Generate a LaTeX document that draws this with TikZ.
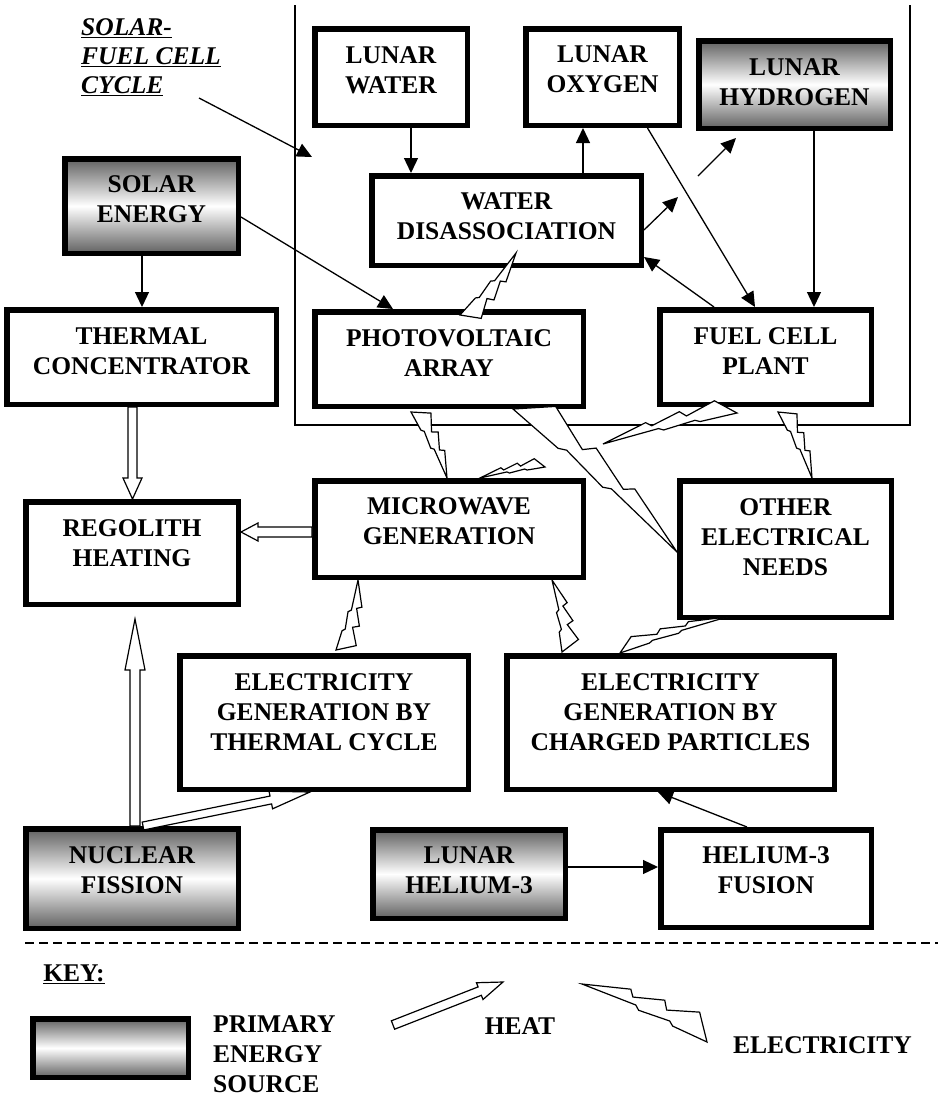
\documentclass[tikz,border=0pt]{standalone}
\usepackage{fontspec}
\setmainfont{Liberation Serif}
\usetikzlibrary{arrows.meta,calc}

% hollow block arrow: tail, tip, half shaft width, half head width, head length
\newcommand\heatarrow[5]{%
  \coordinate (hx-base) at ($(#2)!#5!(#1)$);
  \draw[heat] ($(#1)!#3!90:(#2)$) -- ($(hx-base)!#3!90:(#2)$)
    -- ($(hx-base)!#4!90:(#2)$) -- (#2)
    -- ($(hx-base)!#4!-90:(#2)$) -- ($(hx-base)!#3!-90:(#2)$)
    -- ($(#1)!#3!-90:(#2)$) -- cycle;
}

% zigzag lightning bolt: from, to, width (pt, no unit), side (90 or -90)
\newcommand\boltshape[4]{%
  \draw[elec] (#1)
    -- ($(#1)!0.337!(#2)!{0.66*#3pt}!#4:(#2)$)
    -- ($(#1)!0.375!(#2)!{0.40*#3pt}!#4:(#2)$)
    -- ($(#1)!0.594!(#2)!{0.84*#3pt}!#4:(#2)$)
    -- ($(#1)!0.637!(#2)!{0.50*#3pt}!#4:(#2)$)
    -- ($(#1)!0.860!(#2)!{1.00*#3pt}!#4:(#2)$)
    -- (#2)
    -- ($(#1)!0.725!(#2)$)
    -- ($(#1)!0.690!(#2)!{0.14*#3pt}!#4:(#2)$)
    -- ($(#1)!0.453!(#2)$)
    -- ($(#1)!0.418!(#2)!{0.15*#3pt}!#4:(#2)$)
    -- cycle;
}

\tikzset{
  box/.style={draw=black, line width=5.5pt, fill=white, inner sep=0pt},
  srcbox/.style={box, top color=black!62, bottom color=black!62, middle color=white},
  lbl/.style={font=\fontsize{25.5}{30}\selectfont\bfseries, align=center, inner sep=0pt},
  arr/.style={line width=1.3pt, -{Triangle[length=15pt,width=14pt]}},
  heat/.style={draw=black, fill=white, line width=1.2pt, line join=miter},
  elec/.style={draw=black, fill=white, line width=1.2pt, line join=miter},
  frameline/.style={line width=1.1pt},
  sepline/.style={line width=1.3pt, dash pattern=on 9pt off 5pt},
}

\begin{document}
\begin{tikzpicture}[x=1pt, y=-1pt]
\useasboundingbox (0,0) rectangle (938,1096);

% frame of the solar-fuel cell cycle
\draw[frameline] (295,5) -- (295,425) -- (910,425) -- (910,5);

% blocks
\node[box, minimum width=152.5pt, minimum height=96.5pt] (lw) at (391,77) {};
\node[box, minimum width=153.5pt, minimum height=96.5pt] (lo) at (602.5,77) {};
\node[srcbox, minimum width=191.5pt, minimum height=87.5pt] (lh) at (794.5,84.5) {};
\node[box, minimum width=269.5pt, minimum height=89.5pt] (wd) at (506.5,220.5) {};
\node[srcbox, minimum width=173.5pt, minimum height=94.5pt] (se) at (151.5,206) {};
\node[box, minimum width=269.5pt, minimum height=94.5pt] (tc) at (141.5,357) {};
\node[box, minimum width=268.5pt, minimum height=94.5pt] (pv) at (449,359) {};
\node[box, minimum width=211.5pt, minimum height=94.5pt] (fc) at (765.5,357) {};
\node[box, minimum width=268.5pt, minimum height=96.5pt] (mw) at (449,529) {};
\node[box, minimum width=212.5pt, minimum height=102.5pt] (rh) at (132,553) {};
\node[box, minimum width=211.5pt, minimum height=136.5pt] (oe) at (785.5,549) {};
\node[box, minimum width=288.5pt, minimum height=133.5pt] (et) at (324,722.5) {};
\node[box, minimum width=327.5pt, minimum height=133.5pt] (ec) at (670.5,722.5) {};
\node[srcbox, minimum width=212.5pt, minimum height=99.5pt] (nf) at (132,878.5) {};
\node[srcbox, minimum width=192.5pt, minimum height=88.5pt] (lhe) at (469,874) {};
\node[box, minimum width=210.5pt, minimum height=97.5pt] (hf) at (766,878.5) {};
\node[srcbox, minimum width=155.5pt, minimum height=58.5pt] (keybox) at (110.5,1048) {};

% block texts
\node[lbl] (lw-t) at ([yshift=7pt]lw.center) {LUNAR\\WATER};
\node[lbl] (lo-t) at ([yshift=8pt]lo.center) {LUNAR\\OXYGEN};
\node[lbl] (lh-t) at ([yshift=2pt]lh.center) {LUNAR\\HYDROGEN};
\node[lbl] (wd-t) at ([yshift=4.5pt]wd.center) {WATER\\DISASSOCIATION};
\node[lbl] (se-t) at ([yshift=7pt]se.center) {SOLAR\\ENERGY};
\node[lbl] (tc-t) at ([yshift=6pt]tc.center) {THERMAL\\CONCENTRATOR};
\node[lbl] (pv-t) at ([yshift=6pt]pv.center) {PHOTOVOLTAIC\\ARRAY};
\node[lbl] (fc-t) at ([yshift=6pt]fc.center) {FUEL CELL\\PLANT};
\node[lbl] (mw-t) at ([yshift=8pt]mw.center) {MICROWAVE\\GENERATION};
\node[lbl] (rh-t) at ([yshift=10pt]rh.center) {REGOLITH\\HEATING};
\node[lbl] (oe-t) at ([yshift=12pt]oe.center) {OTHER\\ELECTRICAL\\NEEDS};
\node[lbl] (et-t) at ([yshift=10.5pt]et.center) {ELECTRICITY\\GENERATION BY\\THERMAL CYCLE};
\node[lbl] (ec-t) at ([yshift=10.5pt]ec.center) {ELECTRICITY\\GENERATION BY\\CHARGED PARTICLES};
\node[lbl] (nf-t) at ([yshift=8.5pt]nf.center) {NUCLEAR\\FISSION};
\node[lbl] (lhe-t) at ([yshift=4pt]lhe.center) {LUNAR\\HELIUM-3};
\node[lbl] (hf-t) at ([yshift=8.5pt]hf.center) {HELIUM-3\\FUSION};

% cycle caption and its pointer
\node[lbl, font=\fontsize{25.5}{29}\selectfont\bfseries\itshape, align=left, anchor=west] (sfc)
  at (81,57) {\underline{SOLAR-}\\\underline{FUEL CELL}\\\underline{CYCLE}};
\coordinate (sfc-a) at (199,98);
\coordinate (sfc-b) at (312,157);
\draw[arr] (sfc-a) -- (sfc-b);

% material and energy flows
\draw[arr] ([xshift=20pt]lw.south) -- ([xshift=-95.5pt]wd.north);
\draw[arr] ([xshift=76.5pt]wd.north) -- ([xshift=-19.5pt]lo.south);
\coordinate (wd-out) at (678,197);
\draw[arr] ([yshift=-9.5pt]wd.east) -- (wd-out);
\coordinate (h2-a) at (698,176);
\coordinate (h2-b) at (736,138);
\draw[arr] (h2-a) -- (h2-b);
\draw[arr] ([xshift=45pt]lo.south) -- ([xshift=-10.5pt]fc.north);
\draw[arr] ([xshift=19.5pt]lh.south) -- ([xshift=48.5pt]fc.north);
\draw[arr] ([xshift=-51.5pt]fc.north) -- ([yshift=-36.5pt]wd.east);
\draw[arr] ([yshift=-11pt]se.east) -- ([xshift=-56pt]pv.north);
\draw[arr] ([xshift=-9.5pt]se.south) -- ([xshift=0.5pt]tc.north);
\draw[arr] ([yshift=7pt]lhe.east) -- ([yshift=11.5pt]hf.west);
\draw[arr] ([xshift=-19pt]hf.north) -- ([xshift=-12.5pt]ec.south);

% heat flows
\coordinate (h1s) at ([xshift=-9pt]tc.south);
\coordinate (h1e) at ([xshift=0.5pt]rh.north);
\heatarrow{h1s}{h1e}{4.5pt}{9.5pt}{21pt}
\coordinate (h2s) at ([yshift=-3pt]mw.west);
\coordinate (h2e) at ([yshift=21pt]rh.east);
\heatarrow{h2s}{h2e}{5pt}{9pt}{17pt}
\coordinate (h3s) at ([xshift=3pt]nf.north);
\coordinate (h3e) at ([xshift=3pt,yshift=-12pt]rh.south);
\heatarrow{h3s}{h3e}{5pt}{10pt}{51pt}
\coordinate (h4s) at ([xshift=11pt]nf.north);
\coordinate (h4e) at ([xshift=-14pt]et.south);
\heatarrow{h4s}{h4e}{4pt}{9pt}{40pt}

% electricity flows
\coordinate (b1a) at ([xshift=9.5pt,yshift=15pt]wd.south);
\coordinate (b1b) at ([xshift=11pt,yshift=-6pt]pv.north);
\boltshape{b1a}{b1b}{18}{90}
\coordinate (b2a) at ([xshift=-2pt]mw.north);
\coordinate (b2b) at ([xshift=-38pt,yshift=-3pt]pv.south);
\boltshape{b2a}{b2b}{17}{-90}
\coordinate (b3a) at ([xshift=31pt]mw.north);
\coordinate (b3b) at (545,467);
\boltshape{b3a}{b3b}{10}{90}
\coordinate (b4a) at (603,444);
\coordinate (b4b) at ([xshift=-28.5pt,yshift=-6pt]fc.south);
\boltshape{b4a}{b4b}{17}{90}
\coordinate (b5a) at ([xshift=26.5pt]oe.north);
\coordinate (b5b) at ([xshift=12.5pt,yshift=-5pt]fc.south);
\boltshape{b5a}{b5b}{16}{-90}
\coordinate (b6a) at ([yshift=-3pt]oe.west);
\coordinate (b6b) at ([xshift=64pt]pv.south);
\boltshape{b6a}{b6b}{30}{-90}
\coordinate (b7a) at ([xshift=-91pt]mw.south);
\coordinate (b7b) at ([xshift=12pt,yshift=3pt]et.north);
\boltshape{b7a}{b7b}{18}{90}
\coordinate (b8a) at ([xshift=103pt]mw.south);
\coordinate (b8b) at ([xshift=-108.5pt,yshift=1pt]ec.north);
\boltshape{b8a}{b8b}{18}{90}
\coordinate (b9a) at ([xshift=-58.5pt,yshift=3pt]oe.south);
\coordinate (b9b) at ([xshift=-50.5pt]ec.north);
\boltshape{b9a}{b9b}{12}{-90}

% key
\coordinate (sep-l) at (25,943);
\coordinate (sep-r) at (938,943);
\draw[sepline] (sep-l) -- (sep-r);
\node[lbl] (key-t) at (74,974) {\underline{KEY:}};
\node[lbl, align=left, anchor=west] (key-src) at (213,1054) {PRIMARY\\ENERGY\\SOURCE};
\coordinate (kh-s) at (393,1025);
\coordinate (kh-e) at (503,982);
\heatarrow{kh-s}{kh-e}{4.5pt}{9pt}{25pt}
\node[lbl] (key-heat) at (520,1026) {HEAT};
\coordinate (kb-a) at (582,984);
\coordinate (kb-b) at (707,1042);
\boltshape{kb-a}{kb-b}{24}{90}
\node[lbl] (key-elec) at (822.5,1045) {ELECTRICITY};
\end{tikzpicture}
\end{document}
